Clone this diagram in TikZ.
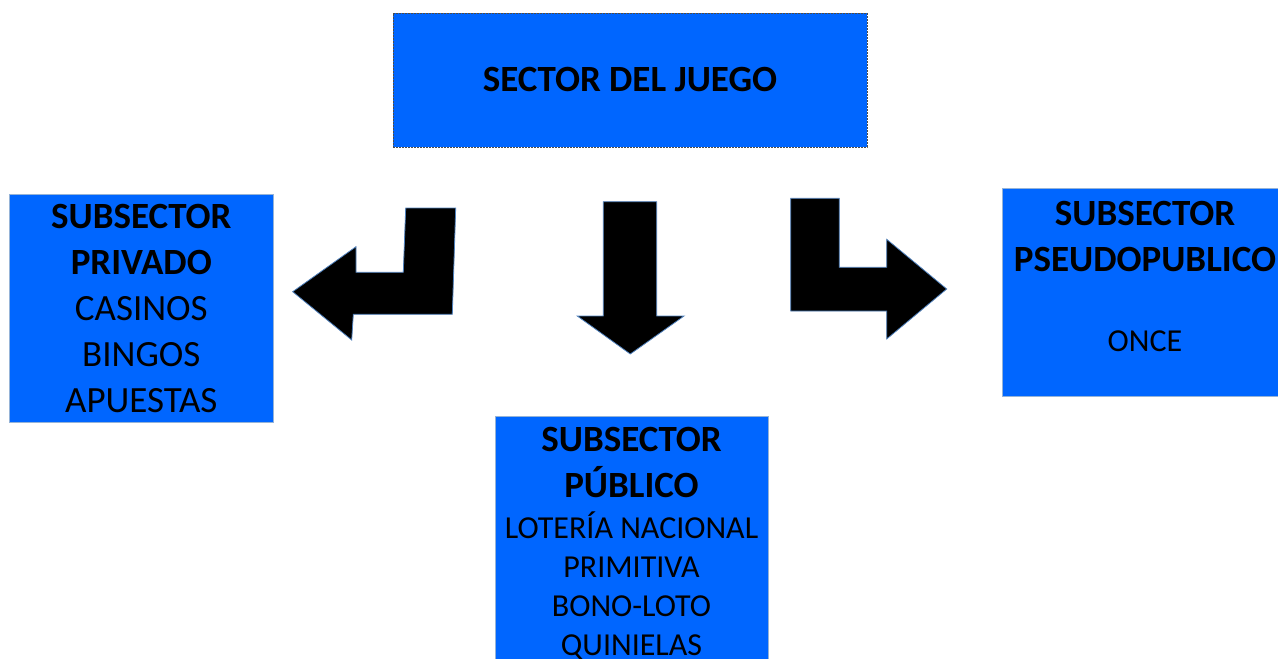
\documentclass[tikz,border=0pt]{standalone}
\usepackage{fontspec}
\setmainfont{Carlito}
\usetikzlibrary{positioning}
\definecolor{boxblue}{RGB}{0,102,255}
\definecolor{edgeblue}{RGB}{79,129,189}
\tikzset{
  sectorbox/.style={fill=boxblue, draw=edgeblue!60, line width=0.4pt, inner sep=0pt, align=center, font=\fontsize{37}{46}\selectfont},
  bigarrow/.style={fill=black, draw=edgeblue, line width=0.8pt, line join=miter}
}
\newcommand{\smallitem}[1]{{\fontsize{32}{39}\selectfont #1}}

\begin{document}
\begin{tikzpicture}[x=1pt,y=-1pt]
        \useasboundingbox (0,0) rectangle (1278,659);
        \node[sectorbox, draw=gray!60!black, dash pattern=on 2pt off 1pt, minimum width=474pt, minimum height=134pt] (juego) at (630,80) {\textbf{SECTOR DEL JUEGO}};
        \node[sectorbox, minimum width=264pt, minimum height=228pt] (privado) at (141.3,308) {\textbf{SUBSECTOR}\\\textbf{PRIVADO}\\CASINOS\\BINGOS\\APUESTAS};
        \node[sectorbox, minimum width=286pt, minimum height=208pt] (pseudo) at (1145,292.5) {\textbf{SUBSECTOR}\\\textbf{PSEUDOPUBLICO}\\[-6pt]\mbox{}\\[-6pt]\smallitem{ONCE}\\[-14pt]\mbox{}};
        \node[sectorbox, minimum width=273pt, minimum height=255pt] (publico) at (631.5,543.5) {\textbf{SUBSECTOR}\\\textbf{PÚBLICO}\\[-5pt]\smallitem{LOTERÍA NACIONAL}\\[-7pt]\smallitem{PRIMITIVA}\\[-7pt]\smallitem{BONO-LOTO}\\[-7pt]\smallitem{QUINIELAS}};
        \filldraw[bigarrow] (405.7,208) -- (455.7,208) -- (452.3,314.3) -- (353.3,314.3) -- (351.7,340) -- (292.7,291.7) -- (356,246.7) -- (356,272.3) -- (403.3,272.3) -- cycle;
        \filldraw[bigarrow] (603.3,201.7) -- (656.7,201.7) -- (656.7,316) -- (684,316) -- (630.3,354) -- (577.3,316) -- (603.3,316) -- cycle;
        \filldraw[bigarrow] (790.7,198.3) -- (839.3,198.3) -- (839.3,267.3) -- (886.7,267.3) -- (886.7,239.3) -- (946.7,289) -- (886.7,339) -- (886.7,311) -- (790.7,311) -- cycle;
    \end{tikzpicture}
\end{document}
